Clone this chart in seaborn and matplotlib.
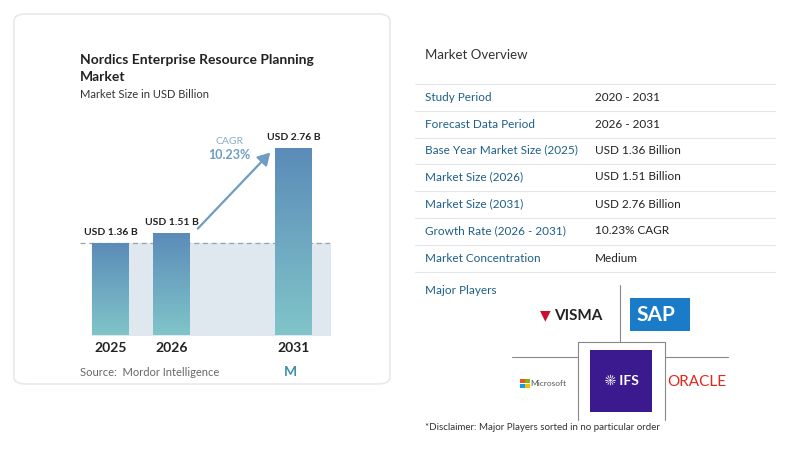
import numpy as np
import pandas as pd
import seaborn as sns
import matplotlib.pyplot as plt
from matplotlib.patches import FancyBboxPatch, Rectangle

years = ["2025", "2026", "2031"]
xpos = [0, 1, 3]
values = [1.36, 1.51, 2.76]
bar_labels = ["USD 1.36 B", "USD 1.51 B", "USD 2.76 B"]
cagr = "10.23%"

ov_labels = ["Study Period", "Forecast Data Period", "Base Year Market Size (2025)",
             "Market Size (2026)", "Market Size (2031)", "Growth Rate (2026 - 2031)",
             "Market Concentration"]
ov_values = ["2020 - 2031", "2026 - 2031", "USD 1.36 Billion", "USD 1.51 Billion",
             "USD 2.76 Billion", "10.23% CAGR", "Medium"]

sns.set_theme(style="white")
plt.rcParams['font.family'] = ['Lato', 'DejaVu Sans']

W, H = 800, 459
fig = plt.figure(figsize=(8, 4.59), dpi=100)
fig.patch.set_facecolor("white")


def fx(x):
    return x / W


def fy(y):
    return 1 - y / H


def txt(x, y, s, **kw):
    fig.text(fx(x), fy(y), s, **kw)


# card
card = FancyBboxPatch((fx(14), fy(384)), fx(376), (370) / H,
                      boxstyle="round,pad=0,rounding_size=0.015",
                      transform=fig.transFigure, facecolor="white",
                      edgecolor="#e6e9ee", lw=1.2, zorder=-5)
fig.patches.append(card)

txt(80, 60, "Nordics Enterprise Resource Planning", fontsize=10, weight="bold",
    color="#222222", va="center")
txt(80, 77, "Market", fontsize=10, weight="bold", color="#222222", va="center")
txt(80, 95, "Market Size in USD Billion", fontsize=8, color="#333333", va="center")

# chart axes
ax = fig.add_axes([fx(80), fy(335), fx(250), 215 / H])
ax.patch.set_alpha(0)
df = pd.DataFrame({"x": xpos, "v": values})
sns.barplot(data=df, x="x", y="v", native_scale=True, width=0.6,
            color="#6aa3c2", ax=ax, zorder=3)
ax.set_xlim(-0.5, -0.5 + 250 / 61)
ax.set_ylim(0, 215 / 67.8)
ax.axis("off")

grad = np.linspace(0, 1, 256).reshape(-1, 1)
cmap = sns.blend_palette(["#80c5c9", "#5b8bb8"], as_cmap=True)
for p in list(ax.patches):
    x0, w, h = p.get_x(), p.get_width(), p.get_height()
    im = ax.imshow(grad, cmap=cmap, origin="lower", aspect="auto",
                   extent=[x0, x0 + w, 0, h], zorder=3)
    im.set_clip_path(p)
    p.set_alpha(0)
ax.set_xlim(-0.5, -0.5 + 250 / 61)
ax.set_ylim(0, 215 / 67.8)

ax.fill_between([-0.3, 3.6], 0, values[0], color="#dfe7ef", zorder=1)
ax.axhline(values[0], color="#9aa3ab", ls=(0, (4, 3)), lw=0.9, zorder=2)
for x, v, lab, yr in zip(xpos, values, bar_labels, years):
    ax.text(x, v + 0.08, lab, ha="center", va="bottom", fontsize=7.5,
            weight="bold", color="#222222")
    ax.text(x, -0.1, yr, ha="center", va="top", fontsize=10, weight="bold",
            color="#222222", clip_on=False)

ax.annotate("", xy=(2.65, 2.72), xytext=(1.4, 1.54),
            arrowprops=dict(arrowstyle="-|>,head_width=0.35,head_length=0.6",
                            color="#6e9cc2", lw=1.6))
txt(229, 141, "CAGR", fontsize=7.5, color="#8aaac6", ha="center", va="center")
txt(229, 155, cagr, fontsize=9, weight="bold", color="#6e9cc2", ha="center", va="center")

txt(80, 372, "Source:  Mordor Intelligence", fontsize=8, color="#666666", va="center")
txt(290, 372, "M", fontsize=10, weight="bold", color="#3d8fb0", ha="center", va="center")

# market overview
txt(425, 55, "Market Overview", fontsize=9.5, color="#333333", va="center")
row_y = [97, 124, 150, 177, 204, 231, 258]
for i, (lab, val) in enumerate(zip(ov_labels, ov_values)):
    y = row_y[i]
    txt(425, y, lab, fontsize=8.5, color="#1d5f86", va="center")
    txt(595, y, val, fontsize=8.5, color="#222222", va="center")
    fig.add_artist(plt.Line2D([fx(415), fx(775)], [fy(y + 13.5)] * 2,
                              color="#e3e6ea", lw=0.8))
fig.add_artist(plt.Line2D([fx(415), fx(775)], [fy(83.5)] * 2, color="#e3e6ea", lw=0.8))

txt(425, 290, "Major Players", fontsize=8.5, color="#1d5f86", va="center")

# logo grid
for xs, ys in [([620, 620], [285, 342]), ([512, 578], [357, 357]),
               ([665, 728], [357, 357]), ([578, 665], [342, 342]),
               ([578, 578], [342, 420]), ([665, 665], [342, 420])]:
    fig.add_artist(plt.Line2D([fx(x) for x in xs], [fy(y) for y in ys],
                              color="#888888", lw=0.8))

txt(545, 315, "\u25BC", fontsize=10, color="#c8102e", ha="center", va="center")
txt(578, 316, "VISMA", fontsize=11, weight="bold", color="#222222", ha="center", va="center")
fig.patches.append(Rectangle((fx(630), fy(331)), fx(60), 33 / H, transform=fig.transFigure,
                             facecolor="#1a7cc8", edgecolor="none"))
txt(656, 315, "SAP", fontsize=15, weight="bold", color="white", ha="center", va="center")
for dx, dy, c in [(0, 0, "#f25022"), (5, 0, "#7fba00"), (0, 5, "#00a4ef"), (5, 5, "#ffb900")]:
    fig.patches.append(Rectangle((fx(520 + dx), fy(383 + dy)), fx(4.5), 4.5 / H,
                                 transform=fig.transFigure, facecolor=c, edgecolor="none"))
txt(548, 383, "Microsoft", fontsize=6, color="#555555", ha="center", va="center")
fig.patches.append(Rectangle((fx(590), fy(412)), fx(62), 62 / H, transform=fig.transFigure,
                             facecolor="#3b1a8f", edgecolor="none"))
txt(622, 381, "\u2600 IFS", fontsize=10, weight="bold", color="white", ha="center", va="center")
txt(697, 382, "ORACLE", fontsize=11, color="#e0281c", ha="center", va="center")

txt(425, 428, "*Disclaimer: Major Players sorted in no particular order", fontsize=7,
    color="#333333", va="center")

fig.savefig("out.png", dpi=100)
